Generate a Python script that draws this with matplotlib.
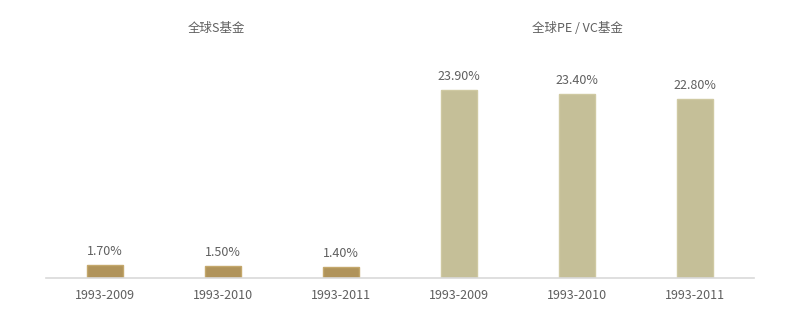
import matplotlib.pyplot as plt
import numpy as np

plt.rcParams['font.family'] = ['Noto Sans CJK SC', 'DejaVu Sans']

periods = ["1993-2009", "1993-2010", "1993-2011"]
group_titles = ["全球S基金", "全球PE / VC基金"]
s_fund = [1.70, 1.50, 1.40]
pe_vc_fund = [23.90, 23.40, 22.80]

TEXT = "#5f5f5f"
C_S = "#b0935a"
C_PE = "#c5bf98"

fig = plt.figure(figsize=(8, 3.2), dpi=100)
ax = fig.add_axes([46 / 800, 1 - 278 / 320, 708 / 800, 236 / 320])

labels = periods + periods
values = s_fund + pe_vc_fund
colors = [C_S] * len(s_fund) + [C_PE] * len(pe_vc_fund)
edges = ["#c4a86c"] * len(s_fund) + ["#cfc9a2"] * len(pe_vc_fund)
x = np.arange(len(values))

ax.bar(x, values, width=0.305, color=colors, edgecolor=edges, linewidth=1.0, zorder=2)
for xi, v in zip(x, values):
    ax.annotate(f"{v:.2f}%", (xi, v), xytext=(0, 5), textcoords="offset points",
                ha="center", va="bottom", fontsize=9, color=TEXT)

ax.set_xlim(-0.5, len(values) - 0.5)
ax.set_ylim(0, 30)
ax.set_xticks(x)
ax.set_xticklabels(labels, fontsize=9, color=TEXT)
ax.tick_params(axis="x", length=0, pad=8)
ax.set_yticks([])
for side in ["top", "right", "left"]:
    ax.spines[side].set_visible(False)
ax.spines["bottom"].set_color("#d9d9d9")
ax.spines["bottom"].set_linewidth(1.2)

# group titles over each group of three bars (first one sits a little left)
n = len(periods)
nudge = [-5, 0]
for g, title in enumerate(group_titles):
    cx = g * n + (n - 1) / 2
    ax.annotate(title, (cx, 1.0), xycoords=ax.get_xaxis_transform(),
                xytext=(nudge[g], 10), textcoords="offset points",
                ha="center", va="center", fontsize=9, color=TEXT)

fig.savefig("out.png", dpi=100)
